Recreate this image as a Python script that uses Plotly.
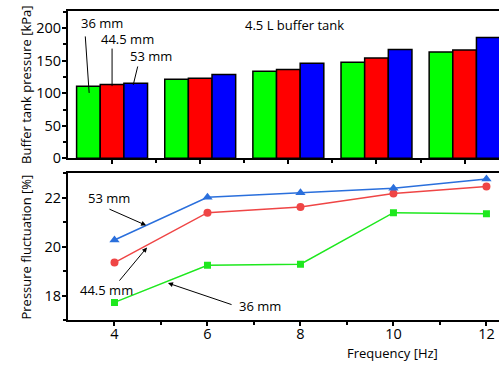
import plotly.graph_objects as go

# Pump frequency [Hz]
freqs = [4, 6, 8, 10, 12]
sizes = ["36 mm", "44.5 mm", "53 mm"]

# Buffer tank pressure [kPa] for each nozzle size
pressure_36 = [110.8, 121.5, 133.8, 147.7, 163.5]
pressure_445 = [113.4, 123.0, 136.4, 154.4, 166.6]
pressure_53 = [115.4, 128.7, 146.0, 167.2, 185.7]

# Pressure fluctuation [%] for each nozzle size
fluct_36 = [17.72, 19.24, 19.28, 21.39, 21.35]
fluct_445 = [19.35, 21.39, 21.62, 22.17, 22.46]
fluct_53 = [20.27, 22.02, 22.20, 22.39, 22.77]

bar_colors = ["#00ff00", "#ff0000", "#0000ff"]
line_colors = ["#1ee81e", "#ef4545", "#2a6fdc"]
markers = ["square", "circle", "triangle-up"]
marker_sizes = [7, 8, 9]

FONT = "Open Sans"

fig = go.Figure()

for name, vals, col in zip(sizes, [pressure_36, pressure_445, pressure_53], bar_colors):
    fig.add_trace(go.Bar(
        x=freqs, y=vals, name=name, marker=dict(color=col, line=dict(color="black", width=1.5)),
        xaxis="x", yaxis="y", showlegend=False,
    ))

for name, vals, col, sym, ms in zip(sizes, [fluct_36, fluct_445, fluct_53], line_colors,
                                    markers, marker_sizes):
    fig.add_trace(go.Scatter(
        x=freqs, y=vals, name=name, mode="lines+markers",
        line=dict(color=col, width=1.5),
        marker=dict(symbol=sym, size=ms, color=col),
        xaxis="x2", yaxis="y2", showlegend=False,
    ))

axis_common = dict(
    showline=True, linecolor="black", linewidth=2, ticks="outside", ticklen=4,
    tickwidth=1.5, tickcolor="black", showgrid=False, zeroline=False,
    tickfont=dict(family=FONT, size=14.5, color="black"),
)
minor_common = dict(ticks="outside", ticklen=3, tickcolor="black")

fig.update_layout(
    width=499, height=365,
    margin=dict(l=68, r=0, t=11, b=45),
    plot_bgcolor="white", paper_bgcolor="white",
    barmode="group", bargap=0.195, bargroupgap=0,
    xaxis=dict(**axis_common, domain=[0, 1], anchor="y", range=[3, 12.78],
               tickvals=freqs, showticklabels=False, mirror=True,
               minor=dict(tickvals=[5, 7, 9, 11], **minor_common)),
    yaxis=dict(**axis_common, domain=[0.5233, 1], anchor="x", range=[0, 226.5],
               tickvals=[0, 50, 100, 150, 200], ticklabelstandoff=-2,
               minor=dict(tickvals=[25, 75, 125, 175, 225], **minor_common)),
    xaxis2=dict(**axis_common, domain=[0, 1], anchor="y2", range=[3, 12.27],
                tickvals=freqs, mirror=True, ticklabelstandoff=-4,
                minor=dict(tickvals=[5, 7, 9, 11], **minor_common)),
    yaxis2=dict(**axis_common, domain=[0, 0.4748], anchor="x2", range=[17, 23],
                tickvals=[18, 20, 22], ticklabelstandoff=-2,
                minor=dict(tickvals=[17, 19, 21, 23], **minor_common)),
)

annotations = []

def label(text, x, y, xref, yref, size=13, angle=0):
    annotations.append(dict(text=text, x=x, y=y, xref=xref, yref=yref, showarrow=False,
                            xanchor="center", yanchor="middle", textangle=angle,
                            font=dict(family=FONT, size=size, color="black")))

def pointer(x, y, ax, ay, xref, yref, head):
    annotations.append(dict(text="", x=x, y=y, ax=ax, ay=ay, xref=xref, yref=yref,
                            axref=xref, ayref=yref, showarrow=True, arrowhead=head,
                            arrowsize=1, arrowwidth=1, arrowcolor="black", standoff=0,
                            startstandoff=0))

# Top panel labels
label("4.5 L buffer tank", 8.15, 205, "x", "y")
label("36 mm", 3.77, 208, "x", "y")
label("44.5 mm", 4.36, 183.5, "x", "y")
label("53 mm", 4.88, 157, "x", "y")
pointer(3.48, 100.5, 3.39, 189.7, "x", "y", 0)
pointer(4.0, 111, 4.0, 171, "x", "y", 0)
pointer(4.48, 112.8, 4.59, 143.5, "x", "y", 0)

# Bottom panel labels
label("53 mm", 3.88, 21.97, "x2", "y2")
label("44.5 mm", 3.82, 18.22, "x2", "y2")
label("36 mm", 7.13, 17.57, "x2", "y2")
pointer(4.68, 20.87, 3.86, 21.56, "x2", "y2", 2)
pointer(4.70, 19.97, 4.08, 18.55, "x2", "y2", 2)
pointer(5.15, 18.51, 6.55, 17.61, "x2", "y2", 2)

# Axis titles
label("Buffer tank pressure [kPa]", -0.098, 0.76, "paper", "paper", angle=-90)
label("Pressure fluctuation [%]", -0.098, 0.237, "paper", "paper", angle=-90)
label("Frequency [Hz]", 0.752, -0.107, "paper", "paper")

fig.update_layout(annotations=annotations)

fig.write_html("out.html")
